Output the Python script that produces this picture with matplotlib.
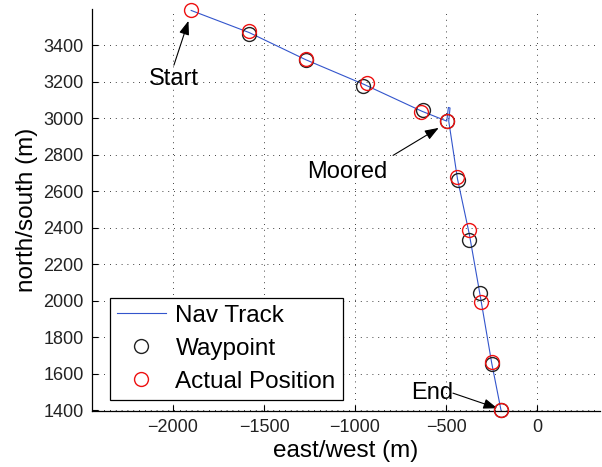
import matplotlib
matplotlib.use("Agg")
import matplotlib.pyplot as plt

plt.rcParams["font.family"] = ["Liberation Sans", "DejaVu Sans"]

# nav track (east/west, north/south in m)
track_x = [-1900, -1582, -1271, -945, -632, -496, -487, -478, -485, -437, -372, -310, -249, -198]
track_y = [3592, 3471, 3322, 3184, 3039, 2985, 3060, 3057, 2985, 2668, 2365, 2015, 1658, 1400]

way_x = [-1582, -1271, -956, -625, -496, -432, -372, -313, -249, -198]
way_y = [3464, 3318, 3175, 3044, 2985, 2660, 2335, 2043, 1652, 1400]

act_x = [-1900, -1582, -1271, -936, -639, -496, -437, -372, -308, -249, -198]
act_y = [3592, 3478, 3325, 3193, 3034, 2985, 2678, 2390, 1994, 1665, 1400]

xticks = [-2000, -1500, -1000, -500, 0]
yticks = [1400, 1600, 1800, 2000, 2200, 2400, 2600, 2800, 3000, 3200, 3400]

# (label, text pos, arrow tail, arrow head)
notes = [
    ("Start", (-1995, 3214), (-1995, 3292), (-1915, 3535)),
    ("Moored", (-1044, 2704), (-791, 2797), (-540, 2948)),
    ("End", (-577, 1493), (-462, 1493), (-218, 1410)),
]

fig = plt.figure(figsize=(6.02, 4.67), dpi=100)
ax = fig.add_axes([92 / 602, 56 / 467, 508 / 602, 402 / 467])

ax.plot(track_x, track_y, color="#3355cc", lw=0.8, label="Nav Track", zorder=3)
ax.plot(way_x, way_y, ls="none", marker="o", ms=10, mfc="none", mec="#222222",
        mew=1.0, label="Waypoint", clip_on=False, zorder=4)
ax.plot(act_x, act_y, ls="none", marker="o", ms=10, mfc="none", mec="#ee1111",
        mew=1.0, label="Actual Position", clip_on=False, zorder=5)

for label, tpos, tail, head in notes:
    ax.text(tpos[0], tpos[1], label, ha="center", va="center", fontsize=17, color="k")
    ax.annotate("", xy=head, xytext=tail,
                arrowprops=dict(arrowstyle="-|>,head_length=0.6,head_width=0.22",
                                color="k", lw=0.8, mutation_scale=14,
                                shrinkA=0, shrinkB=0))

ax.set_xlim(-2445, 346)
ax.set_ylim(1395, 3600)
ax.set_xticks(xticks)
ax.set_yticks(yticks)
ax.tick_params(direction="in", length=4, width=0.8, labelsize=13,
               labelcolor="#222222", pad=6)
ax.grid(True, color="k", lw=0.6, ls=(0, (1, 6)))
ax.spines["top"].set_visible(False)
ax.spines["right"].set_visible(False)
for sp in ("left", "bottom"):
    ax.spines[sp].set_linewidth(0.9)

ax.set_xlabel("east/west (m)", fontsize=17.5, labelpad=3)
ax.set_ylabel("north/south (m)", fontsize=17.5, labelpad=4)

leg = ax.legend(loc="lower left", bbox_to_anchor=(0.035, 0.027), borderaxespad=0,
                fontsize=17.5, fancybox=False, edgecolor="k", framealpha=1,
                handlelength=2.0, handletextpad=0.4, borderpad=0.3,
                labelspacing=0.45)
leg.get_frame().set_linewidth(0.9)

fig.savefig("out.png", dpi=100, facecolor="white")
